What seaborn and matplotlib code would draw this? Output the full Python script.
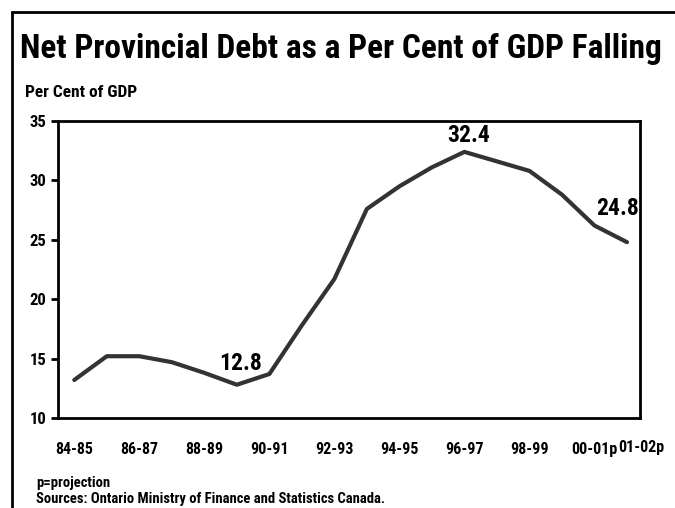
import matplotlib
matplotlib.use("Agg")
import matplotlib.pyplot as plt
import matplotlib.transforms as mtransforms
from matplotlib.lines import Line2D
import seaborn as sns
import pandas as pd

years = ["84-85", "85-86", "86-87", "87-88", "88-89", "89-90", "90-91", "91-92",
         "92-93", "93-94", "94-95", "95-96", "96-97", "97-98", "98-99", "99-00",
         "00-01p", "01-02p"]
values = [13.2, 15.2, 15.2, 14.7, 13.8, 12.8, 13.7, 17.8, 21.7, 27.6, 29.5,
          31.1, 32.4, 31.6, 30.8, 28.8, 26.2, 24.8]
tick_labels = ["84-85", "86-87", "88-89", "90-91", "92-93", "94-95", "96-97",
               "98-99", "00-01p", "01-02p"]
y_ticks = [10, 15, 20, 25, 30, 35]
labelled = {"89-90": "12.8", "96-97": "32.4", "01-02p": "24.8"}

df = pd.DataFrame({"year": years, "value": values, "idx": range(len(years))})

sns.set_theme(style="white")
NARROW = ["Roboto Condensed", "Archivo Narrow", "Liberation Sans", "DejaVu Sans"]
plt.rcParams["font.family"] = NARROW
plt.rcParams["font.weight"] = "bold"

fig = plt.figure(figsize=(6.75, 5.08), dpi=100)
ax = fig.add_axes([58 / 675, 90 / 508, (640 - 58) / 675, (418 - 121) / 508])

sns.lineplot(data=df, x="idx", y="value", ax=ax, color="#333333", linewidth=3.0)

ax.set_xlim(-0.5, 17.4)
ax.set_ylim(10, 35)
ax.set_yticks(y_ticks)
ax.set_yticklabels([str(v) for v in y_ticks], fontsize=12, fontweight="bold")
tick_pos = [years.index(t) for t in tick_labels]
ax.set_xticks(tick_pos)
ax.set_xticklabels(tick_labels, fontsize=11.5, fontweight="bold")
ax.set_xlabel("")
ax.set_ylabel("")

for s in ax.spines.values():
    s.set_visible(True)
    s.set_color("black")
    s.set_linewidth(2.0)

ax.tick_params(axis="y", which="major", direction="out", length=5, width=2,
               color="black", left=True, pad=3.5, labelcolor="black")
ax.tick_params(axis="x", which="major", length=0, pad=17, labelcolor="black")

# last tick label shifted right and up
lbls = ax.get_xticklabels()
last = lbls[-1]
last.set_transform(last.get_transform() +
                   mtransforms.ScaledTranslation(14 / 100, 2 / 100, fig.dpi_scale_trans))

offsets = {"89-90": (3, 7), "96-97": (3, 3.5), "01-02p": (-7, 16)}
for yr, txt in labelled.items():
    i = years.index(yr)
    ax.annotate(txt, xy=(i, values[i]), xytext=offsets[yr], textcoords="offset points",
                ha="center", va="bottom", fontsize=17, fontweight="bold", color="black")

fig.text(20 / 675, 1 - 58 / 508, "Net Provincial Debt as a Per Cent of GDP Falling",
         fontsize=24, fontweight="bold", ha="left", va="baseline", color="black")
fig.text(25 / 675, 1 - 97 / 508, "Per Cent of GDP", fontsize=12.5, fontweight="bold",
         ha="left", va="baseline", color="black")
fig.text(36 / 675, 1 - 487 / 508, "p=projection", fontsize=10.5, fontweight="bold",
         ha="left", va="baseline", color="black")
fig.text(36 / 675, 1 - 503 / 508,
         "Sources: Ontario Ministry of Finance and Statistics Canada.",
         fontsize=10.5, fontweight="bold", ha="left", va="baseline", color="black")

# outer frame (left and top)
fig.add_artist(Line2D([11.5 / 675, 11.5 / 675], [0, 1 - 12 / 508],
                      transform=fig.transFigure, color="black", linewidth=2))
fig.add_artist(Line2D([11.5 / 675, 1], [1 - 12 / 508, 1 - 12 / 508],
                      transform=fig.transFigure, color="black", linewidth=2))

fig.savefig("out.png", dpi=100)
